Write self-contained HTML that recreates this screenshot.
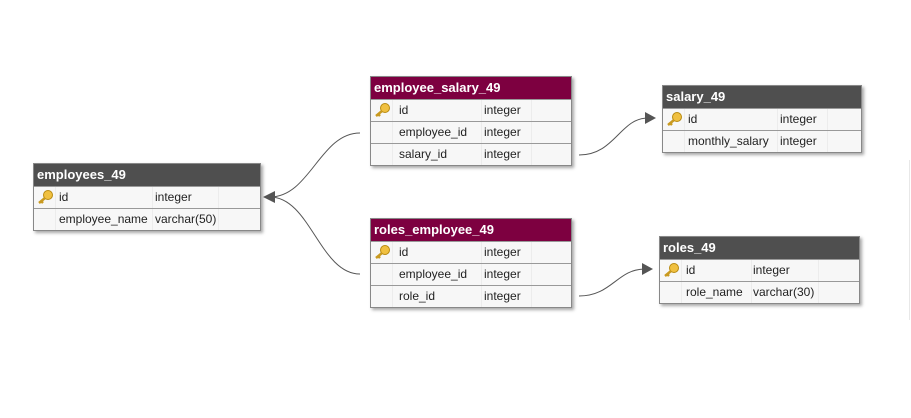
<!DOCTYPE html>
<html><head><style>
body{margin:0;width:911px;height:418px;background:#fff;position:relative;overflow:hidden;font-family:"Liberation Sans",Arial,sans-serif;}
.t{position:absolute;border:1px solid #888;background:#f7f7f7;box-shadow:2px 2px 3px rgba(0,0,0,.35);}
.h{height:22px;line-height:22px;color:#fff;font-weight:bold;font-size:13px;padding-left:3px;}
.d{background:#4f4f4f}.m{background:#7d0040}
.r{height:21px;border-top:1px solid #999;position:relative;font-size:12px;color:#222;}
.r span{position:absolute;top:0;line-height:21px;}
.r i{position:absolute;top:0;bottom:0;border-left:1px solid #ececec;}
.k{position:absolute;left:3px;top:3px;}
</style></head><body>
<svg width="911" height="418" style="position:absolute;left:0;top:0">
<g fill="none" stroke="#555" stroke-width="1">
<path d="M360 133 C320 133 310 197 270 197"/>
<path d="M360 274 C320 274 310 197 270 197"/>
<path d="M579 155 C615 155 620 118 648 118"/>
<path d="M579 296 C612 296 617 269 645 269"/>
</g>
<g fill="#555">
<polygon points="263,197 275,191 275,203"/>
<polygon points="656,118 645,112 645,124"/>
<polygon points="653,269 642,263 642,275"/>
</g>
</svg>

<div class="t" style="left:33px;top:163px;width:226px">
<div class="h d">employees_49</div>
<div class="r"><svg class="k" width="16" height="14"><circle cx="11" cy="5" r="4.5" fill="#f0c040" stroke="#b88a10"/><path d="M8 8 L2 13 M4 11 L6 13" stroke="#c99a20" stroke-width="2.5"/></svg><i style="left:21px"></i><span style="left:25px">id</span><i style="left:118px"></i><span style="left:121px">integer</span><i style="left:184px"></i></div>
<div class="r"><i style="left:21px"></i><span style="left:25px">employee_name</span><i style="left:118px"></i><span style="left:121px">varchar(50)</span><i style="left:184px"></i></div>
</div>

<div class="t" style="left:370px;top:76px;width:200px">
<div class="h m">employee_salary_49</div>
<div class="r"><svg class="k" width="16" height="14"><circle cx="11" cy="5" r="4.5" fill="#f0c040" stroke="#b88a10"/><path d="M8 8 L2 13 M4 11 L6 13" stroke="#c99a20" stroke-width="2.5"/></svg><i style="left:21px"></i><span style="left:28px">id</span><i style="left:110px"></i><span style="left:113px">integer</span><i style="left:160px"></i></div>
<div class="r"><i style="left:21px"></i><span style="left:28px">employee_id</span><i style="left:110px"></i><span style="left:113px">integer</span><i style="left:160px"></i></div>
<div class="r"><i style="left:21px"></i><span style="left:28px">salary_id</span><i style="left:110px"></i><span style="left:113px">integer</span><i style="left:160px"></i></div>
</div>

<div class="t" style="left:370px;top:218px;width:200px">
<div class="h m">roles_employee_49</div>
<div class="r"><svg class="k" width="16" height="14"><circle cx="11" cy="5" r="4.5" fill="#f0c040" stroke="#b88a10"/><path d="M8 8 L2 13 M4 11 L6 13" stroke="#c99a20" stroke-width="2.5"/></svg><i style="left:21px"></i><span style="left:28px">id</span><i style="left:110px"></i><span style="left:113px">integer</span><i style="left:160px"></i></div>
<div class="r"><i style="left:21px"></i><span style="left:28px">employee_id</span><i style="left:110px"></i><span style="left:113px">integer</span><i style="left:160px"></i></div>
<div class="r"><i style="left:21px"></i><span style="left:28px">role_id</span><i style="left:110px"></i><span style="left:113px">integer</span><i style="left:160px"></i></div>
</div>

<div class="t" style="left:662px;top:85px;width:198px">
<div class="h d">salary_49</div>
<div class="r"><svg class="k" width="16" height="14"><circle cx="11" cy="5" r="4.5" fill="#f0c040" stroke="#b88a10"/><path d="M8 8 L2 13 M4 11 L6 13" stroke="#c99a20" stroke-width="2.5"/></svg><i style="left:21px"></i><span style="left:25px">id</span><i style="left:114px"></i><span style="left:117px">integer</span><i style="left:164px"></i></div>
<div class="r"><i style="left:21px"></i><span style="left:25px">monthly_salary</span><i style="left:114px"></i><span style="left:117px">integer</span><i style="left:164px"></i></div>
</div>

<div class="t" style="left:659px;top:236px;width:199px">
<div class="h d">roles_49</div>
<div class="r"><svg class="k" width="16" height="14"><circle cx="11" cy="5" r="4.5" fill="#f0c040" stroke="#b88a10"/><path d="M8 8 L2 13 M4 11 L6 13" stroke="#c99a20" stroke-width="2.5"/></svg><i style="left:21px"></i><span style="left:26px">id</span><i style="left:91px"></i><span style="left:93px">integer</span><i style="left:158px"></i></div>
<div class="r"><i style="left:21px"></i><span style="left:26px">role_name</span><i style="left:91px"></i><span style="left:93px">varchar(30)</span><i style="left:158px"></i></div>
</div>
<div style="position:absolute;left:909px;top:160px;width:1px;height:160px;background:#e8e8e8"></div>
</body></html>
